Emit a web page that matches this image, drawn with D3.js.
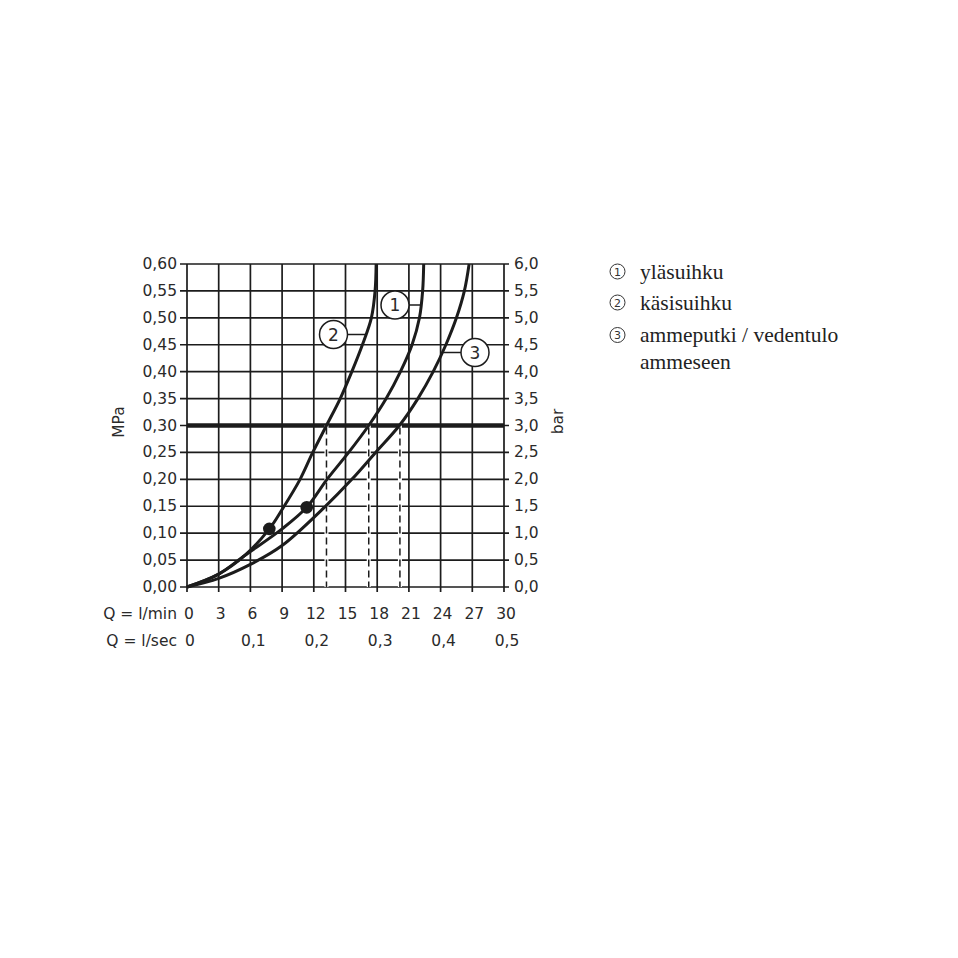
<!DOCTYPE html>
<html><head><meta charset="utf-8">
<script src="https://cdn.jsdelivr.net/npm/d3@7"></script>
<style>
html,body{margin:0;padding:0;background:#fff;}
svg{display:block;}
.ax{font-family:"DejaVu Sans",sans-serif;font-size:15.5px;fill:#2a2a2a;}
.lg{font-family:"Liberation Serif","Times New Roman",serif;font-size:21.5px;fill:#222;}
</style></head>
<body>
<svg id="c" width="958" height="958"></svg>
<script>
// ---- data (Q in l/min, p in MPa) ----
const curve1Q = [0, 3, 5.5, 9, 11.33, 13.25, 15.3, 17.2, 18.85, 20.2, 21.3, 22.0, 22.3, 22.4];
const curve1P = [0, 0.024, 0.059, 0.108, 0.148, 0.20, 0.25, 0.30, 0.35, 0.40, 0.45, 0.50, 0.55, 0.60];
const curve2Q = [0, 3, 5.5, 7.79, 9, 10.7, 11.9, 13.2, 14.5, 15.6, 16.6, 17.45, 17.8, 17.9];
const curve2P = [0, 0.024, 0.059, 0.108, 0.144, 0.20, 0.25, 0.30, 0.35, 0.40, 0.45, 0.50, 0.55, 0.60];
const curve3Q = [0, 3, 6, 9, 13.0, 15.6, 17.85, 20.1, 21.85, 23.3, 24.5, 25.5, 26.25, 26.7];
const curve3P = [0, 0.016, 0.042, 0.077, 0.148, 0.20, 0.25, 0.30, 0.35, 0.40, 0.45, 0.50, 0.55, 0.60];
const dotsQ = [7.79, 11.33];
const dotsP = [0.108, 0.148];
const dashQ = [13.2, 17.2, 20.15];
const refP = 0.30;
const mpaTicks = ["0,00","0,05","0,10","0,15","0,20","0,25","0,30","0,35","0,40","0,45","0,50","0,55","0,60"];
const barTicks = ["0,0","0,5","1,0","1,5","2,0","2,5","3,0","3,5","4,0","4,5","5,0","5,5","6,0"];
const lminTicks = [0,3,6,9,12,15,18,21,24,27,30];
const lsecLabels = ["0","0,1","0,2","0,3","0,4","0,5"];
const lsecAtQ = [0,6,12,18,24,30];
const labelNums = ["1","2","3"];
const legendItems = ["yläsuihku","käsisuihku","ammeputki / vedentulo","ammeseen"];

// ---- scales ----
const x = d3.scaleLinear().domain([0,30]).range([187,504]);
const y = d3.scaleLinear().domain([0,0.6]).range([587,264]);
const svg = d3.select("#c");
const ink = "#1c1c1c";

// grid
const g = svg.append("g");
g.selectAll(".v").data(lminTicks).join("line")
  .attr("x1",d=>x(d)).attr("x2",d=>x(d)).attr("y1",y(0)+5).attr("y2",y(0.6))
  .attr("stroke",ink).attr("stroke-width",1.7);
const pVals = d3.range(13).map(i=>i*0.05);
g.selectAll(".h").data(pVals).join("line")
  .attr("x1",x(0)-7).attr("x2",x(30)+5).attr("y1",d=>y(d)).attr("y2",d=>y(d))
  .attr("stroke",ink).attr("stroke-width",1.7);

// reference thick line
g.append("line").attr("x1",x(0)).attr("x2",x(30)).attr("y1",y(refP)).attr("y2",y(refP))
  .attr("stroke",ink).attr("stroke-width",4.5);

// dashed verticals
g.selectAll(".d").data(dashQ).join("line")
  .attr("x1",d=>x(d)).attr("x2",d=>x(d)).attr("y1",y(refP)).attr("y2",y(0))
  .attr("stroke","#fff").attr("stroke-width",4);
g.selectAll(".d2").data(dashQ).join("line")
  .attr("x1",d=>x(d)).attr("x2",d=>x(d)).attr("y1",y(refP)+2).attr("y2",y(0))
  .attr("stroke",ink).attr("stroke-width",1.5).attr("stroke-dasharray","7,4");

// curves
const line = d3.line().x(d=>x(d[0])).y(d=>y(d[1])).curve(d3.curveCatmullRom.alpha(0.5));
[[curve1Q,curve1P],[curve2Q,curve2P],[curve3Q,curve3P]].forEach(([qs,ps])=>{
  const pts = qs.map((q,i)=>[q,ps[i]]);
  svg.append("path").attr("d",line(pts)).attr("fill","none")
    .attr("stroke",ink).attr("stroke-width",3).attr("stroke-linejoin","round");
});

// dots
svg.selectAll(".dot").data(dotsQ).join("circle")
  .attr("cx",d=>x(d)).attr("cy",(d,i)=>y(dotsP[i])).attr("r",6.3).attr("fill",ink);

// circled curve labels with leaders
function interpQ(qs,ps,p){
  for(let i=1;i<ps.length;i++){ if(p<=ps[i]){const t=(p-ps[i-1])/(ps[i]-ps[i-1]);return qs[i-1]+t*(qs[i]-qs[i-1]);} }
  return qs[qs.length-1];
}
const lbl = [
  {n:"1", qs:curve1Q, ps:curve1P, p:y.invert(305), cx:395, side:"left"},
  {n:"2", qs:curve2Q, ps:curve2P, p:y.invert(334.5), cx:333.5, side:"left"},
  {n:"3", qs:curve3Q, ps:curve3P, p:y.invert(352.5), cx:475, side:"right"}
];
lbl.forEach(o=>{
  const cy = y(o.p), cxCurve = x(interpQ(o.qs,o.ps,o.p));
  const x1 = o.side==="left" ? o.cx+14 : o.cx-14;
  svg.append("line").attr("x1",x1).attr("x2",cxCurve).attr("y1",cy).attr("y2",cy)
    .attr("stroke",ink).attr("stroke-width",1.5);
  svg.append("circle").attr("cx",o.cx).attr("cy",cy).attr("r",14)
    .attr("fill","#fff").attr("stroke",ink).attr("stroke-width",1.5);
  svg.append("text").attr("class","ax").attr("x",o.cx).attr("y",cy)
    .attr("text-anchor","middle").attr("dominant-baseline","central")
    .style("font-size","17px").text(o.n);
});

// axes labels
svg.selectAll(".yl").data(mpaTicks).join("text").attr("class","ax")
  .attr("x",177).attr("y",(d,i)=>y(i*0.05)).attr("text-anchor","end")
  .attr("dominant-baseline","central").text(d=>d);
svg.selectAll(".yr").data(barTicks).join("text").attr("class","ax")
  .attr("x",514).attr("y",(d,i)=>y(i*0.05)).attr("text-anchor","start")
  .attr("dominant-baseline","central").text(d=>d);
svg.selectAll(".xl").data(lminTicks).join("text").attr("class","ax")
  .attr("x",d=>x(d)+2).attr("y",614).attr("text-anchor","middle")
  .attr("dominant-baseline","central").text(d=>d);
svg.selectAll(".xs").data(lsecLabels).join("text").attr("class","ax")
  .attr("x",(d,i)=>x(lsecAtQ[i])+3).attr("y",640.5).attr("text-anchor","middle")
  .attr("dominant-baseline","central").text(d=>d);
svg.append("text").attr("class","ax").attr("x",177).attr("y",614)
  .attr("text-anchor","end").attr("dominant-baseline","central").text("Q = l/min");
svg.append("text").attr("class","ax").attr("x",177).attr("y",640.5)
  .attr("text-anchor","end").attr("dominant-baseline","central").text("Q = l/sec");
svg.append("text").attr("class","ax").attr("transform","translate(118.5,422) rotate(-90)")
  .attr("text-anchor","middle").attr("dominant-baseline","central").text("MPa");
svg.append("text").attr("class","ax").attr("transform","translate(557.5,421.5) rotate(-90)")
  .attr("text-anchor","middle").attr("dominant-baseline","central").text("bar");

// legend
const legY = [271.5, 302.5, 335, 361.5];
legendItems.forEach((t,i)=>{
  if(i<3){
    svg.append("circle").attr("cx",617.5).attr("cy",legY[i]).attr("r",7.5)
      .attr("fill","none").attr("stroke","#333").attr("stroke-width",1);
    svg.append("text").attr("x",617.5).attr("y",legY[i]+0.5).attr("text-anchor","middle")
      .attr("dominant-baseline","central").style("font-family","DejaVu Sans")
      .style("font-size","11px").style("fill","#333").text(labelNums[i]);
  }
  svg.append("text").attr("class","lg").attr("x",640).attr("y",legY[i])
    .attr("dominant-baseline","central").text(t);
});
</script>
</body></html>
